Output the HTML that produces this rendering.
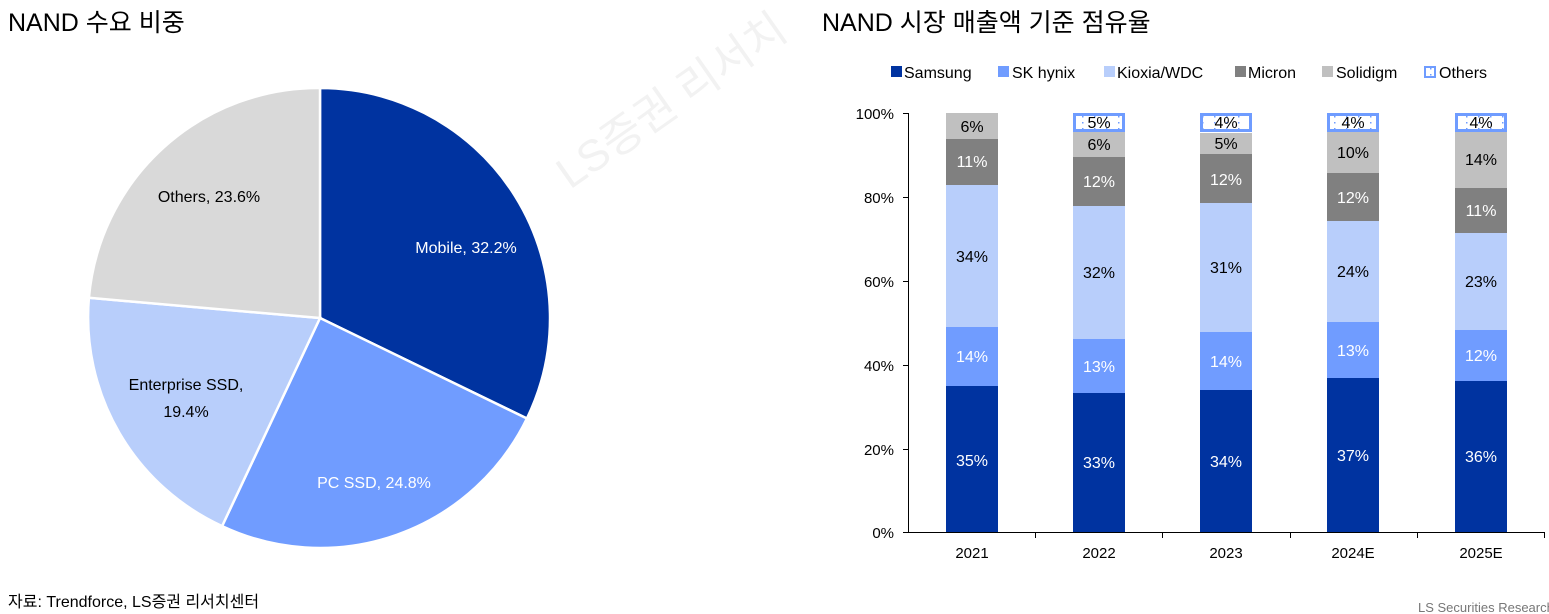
<!DOCTYPE html>
<html><head><meta charset="utf-8"><style>
body{margin:0;width:1549px;height:614px;background:#fff;overflow:hidden;font-family:"Liberation Sans","Noto Sans CJK KR",sans-serif;}
svg{position:absolute;left:0;top:0}
</style></head><body>
<svg width="1549" height="614" xmlns="http://www.w3.org/2000/svg" font-family="Liberation Sans, Noto Sans CJK KR, sans-serif">
<defs><pattern id="dots" width="12" height="6" patternUnits="userSpaceOnUse"><rect width="12" height="6" fill="#fff"/><rect x="2" y="2" width="1.5" height="1.5" fill="#6f9cff"/></pattern></defs>
<text x="8" y="31" font-size="25" fill="#000">NAND 수요 비중</text>
<text x="822" y="31" font-size="25" fill="#000">NAND 시장 매출액 기준 점유율</text>
<text x="570" y="190" font-size="44" fill="#f2f2f2" transform="rotate(-35 570 190)">LS증권 리서치</text>
<g stroke="#fff" stroke-width="2.5">
<path d="M320,318 L320,88 A230,230 0 0 1 526.9,418.5 Z" fill="#0033a0"/>
<path d="M320,318 L526.9,418.5 A230,230 0 0 1 222.1,526.1 Z" fill="#709cff"/>
<path d="M320,318 L222.1,526.1 A230,230 0 0 1 88.9,297.8 Z" fill="#b8cefb"/>
<path d="M320,318 L88.9,297.8 A230,230 0 0 1 320,88 Z" fill="#d9d9d9"/>
</g>
<g font-size="16" text-anchor="middle">
<text x="466" y="253" fill="#fff">Mobile, 32.2%</text>
<text x="374" y="488" fill="#fff">PC SSD, 24.8%</text>
<text x="186" y="390" fill="#000">Enterprise SSD,</text>
<text x="186" y="417" fill="#000">19.4%</text>
<text x="209" y="202" fill="#000">Others, 23.6%</text>
</g>
<text x="8" y="607" font-size="16" fill="#000">자료: Trendforce, LS증권 리서치센터</text>
<text x="1418" y="612" font-size="13" fill="#777">LS Securities  Research</text>
<g font-size="16" fill="#000">
<rect x="891" y="66" width="11" height="11" fill="#0033a0"/><text x="904" y="78">Samsung</text>
<rect x="998" y="66" width="11" height="11" fill="#709cff"/><text x="1012" y="78">SK hynix</text>
<rect x="1104" y="66" width="11" height="11" fill="#b8cefb"/><text x="1117" y="78">Kioxia/WDC</text>
<rect x="1235" y="66" width="11" height="11" fill="#808080"/><text x="1248" y="78">Micron</text>
<rect x="1322" y="66" width="11" height="11" fill="#c0c0c0"/><text x="1336" y="78">Solidigm</text>
<rect x="1425" y="67" width="10" height="10" fill="url(#dots)" stroke="#6f9cff" stroke-width="2"/><text x="1439" y="78">Others</text>
</g>
<g stroke="#000" stroke-width="1">
<line x1="908.5" y1="113" x2="908.5" y2="532"/>
<line x1="908" y1="532.5" x2="1545" y2="532.5"/>
<line x1="903" y1="113.5" x2="908" y2="113.5"/><line x1="903" y1="197.5" x2="908" y2="197.5"/><line x1="903" y1="281.5" x2="908" y2="281.5"/><line x1="903" y1="365.5" x2="908" y2="365.5"/><line x1="903" y1="449.5" x2="908" y2="449.5"/><line x1="903" y1="532.5" x2="908" y2="532.5"/>
<line x1="1035.5" y1="532" x2="1035.5" y2="538"/><line x1="1162.5" y1="532" x2="1162.5" y2="538"/><line x1="1290.5" y1="532" x2="1290.5" y2="538"/><line x1="1417.5" y1="532" x2="1417.5" y2="538"/><line x1="1544.5" y1="532" x2="1544.5" y2="538"/>
</g>
<g font-size="15" text-anchor="end" fill="#000">
<text x="894" y="119">100%</text><text x="894" y="203">80%</text><text x="894" y="287">60%</text><text x="894" y="371">40%</text><text x="894" y="455">20%</text><text x="894" y="538">0%</text>
</g>
<g font-size="15" text-anchor="middle" fill="#000">
<text x="972" y="558">2021</text><text x="1099" y="558">2022</text><text x="1226" y="558">2023</text><text x="1353" y="558">2024E</text><text x="1481" y="558">2025E</text>
</g>
<g>
<rect x="946" y="386" width="52" height="146" fill="#0033a0"/><rect x="946" y="327" width="52" height="59" fill="#709cff"/><rect x="946" y="185" width="52" height="142" fill="#b8cefb"/><rect x="946" y="139" width="52" height="46" fill="#808080"/><rect x="946" y="113" width="52" height="26" fill="#c0c0c0"/>
<rect x="1073" y="393" width="52" height="139" fill="#0033a0"/><rect x="1073" y="339" width="52" height="54" fill="#709cff"/><rect x="1073" y="206" width="52" height="133" fill="#b8cefb"/><rect x="1073" y="157" width="52" height="49" fill="#808080"/><rect x="1073" y="131" width="52" height="26" fill="#c0c0c0"/><rect x="1074.5" y="114.5" width="49" height="16" fill="url(#dots)" stroke="#6f9cff" stroke-width="3"/>
<rect x="1200" y="390" width="52" height="142" fill="#0033a0"/><rect x="1200" y="332" width="52" height="58" fill="#709cff"/><rect x="1200" y="203" width="52" height="129" fill="#b8cefb"/><rect x="1200" y="154" width="52" height="49" fill="#808080"/><rect x="1200" y="133" width="52" height="21" fill="#c0c0c0"/><rect x="1201.5" y="114.5" width="49" height="16" fill="url(#dots)" stroke="#6f9cff" stroke-width="3"/>
<rect x="1327" y="378" width="52" height="154" fill="#0033a0"/><rect x="1327" y="322" width="52" height="56" fill="#709cff"/><rect x="1327" y="221" width="52" height="101" fill="#b8cefb"/><rect x="1327" y="173" width="52" height="48" fill="#808080"/><rect x="1327" y="131" width="52" height="42" fill="#c0c0c0"/><rect x="1328.5" y="114.5" width="49" height="16" fill="url(#dots)" stroke="#6f9cff" stroke-width="3"/>
<rect x="1455" y="381" width="52" height="151" fill="#0033a0"/><rect x="1455" y="330" width="52" height="51" fill="#709cff"/><rect x="1455" y="233" width="52" height="97" fill="#b8cefb"/><rect x="1455" y="188" width="52" height="45" fill="#808080"/><rect x="1455" y="131" width="52" height="57" fill="#c0c0c0"/><rect x="1456.5" y="114.5" width="49" height="16" fill="url(#dots)" stroke="#6f9cff" stroke-width="3"/>
</g>
<g font-size="16" text-anchor="middle">
<text x="972" y="466" fill="#fff">35%</text><text x="972" y="362" fill="#fff">14%</text><text x="972" y="262">34%</text><text x="972" y="167" fill="#fff">11%</text><text x="972" y="132">6%</text>
<text x="1099" y="468" fill="#fff">33%</text><text x="1099" y="372" fill="#fff">13%</text><text x="1099" y="278">32%</text><text x="1099" y="187" fill="#fff">12%</text><text x="1099" y="150">6%</text><text x="1099" y="128">5%</text>
<text x="1226" y="467" fill="#fff">34%</text><text x="1226" y="367" fill="#fff">14%</text><text x="1226" y="273">31%</text><text x="1226" y="185" fill="#fff">12%</text><text x="1226" y="149">5%</text><text x="1226" y="128">4%</text>
<text x="1353" y="461" fill="#fff">37%</text><text x="1353" y="356" fill="#fff">13%</text><text x="1353" y="277">24%</text><text x="1353" y="203" fill="#fff">12%</text><text x="1353" y="158">10%</text><text x="1353" y="128">4%</text>
<text x="1481" y="462" fill="#fff">36%</text><text x="1481" y="361" fill="#fff">12%</text><text x="1481" y="287">23%</text><text x="1481" y="216" fill="#fff">11%</text><text x="1481" y="165">14%</text><text x="1481" y="128">4%</text>
</g>
</svg>
</body></html>
